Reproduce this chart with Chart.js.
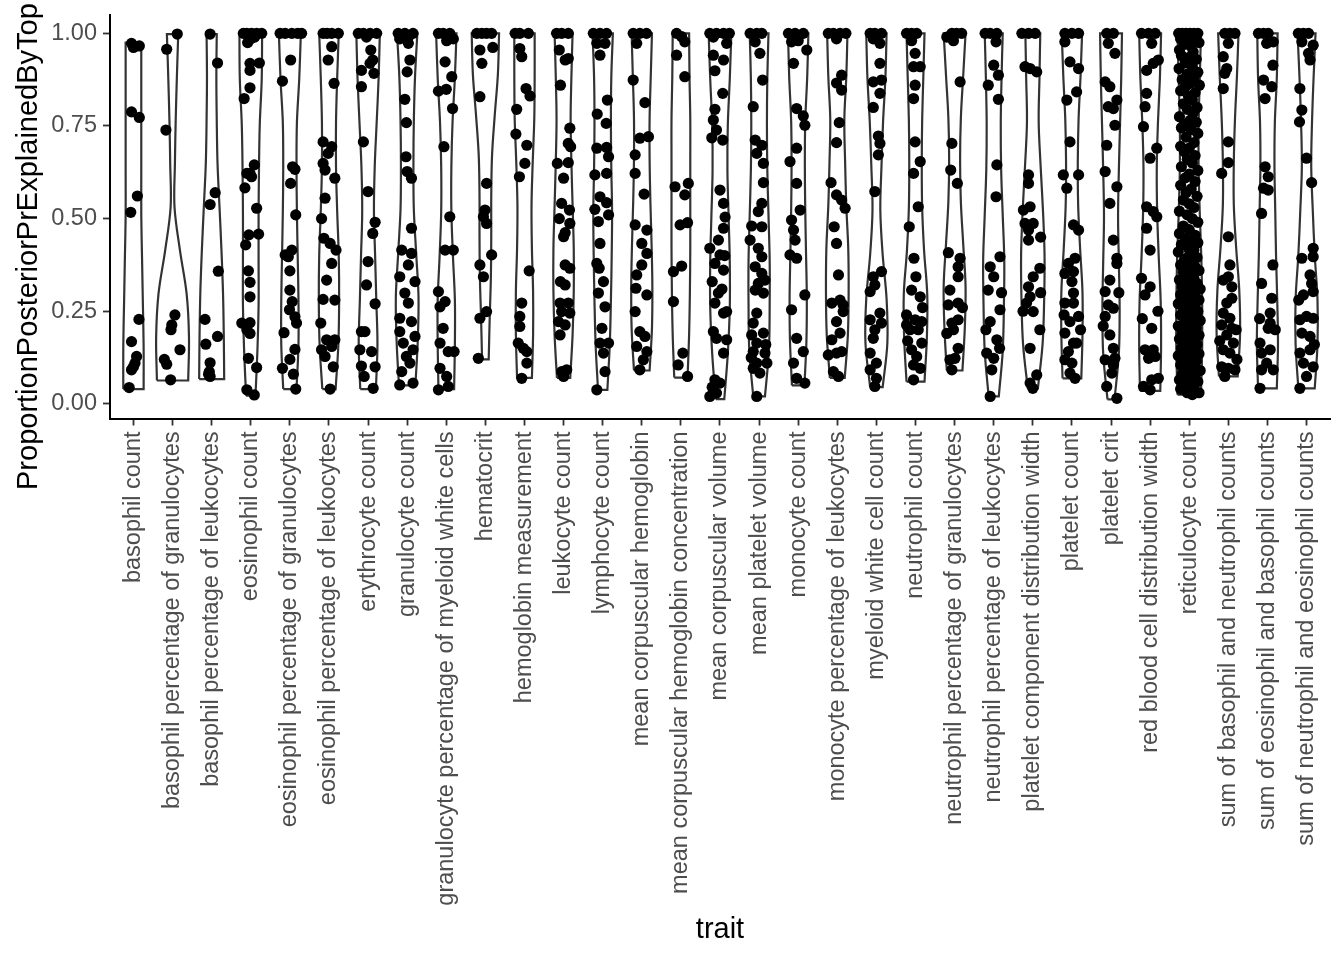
<!DOCTYPE html>
<html>
<head>
<meta charset="utf-8">
<script src="https://cdn.jsdelivr.net/npm/chart.js@4.4.1/dist/chart.umd.min.js"></script>
<style>
html,body{margin:0;padding:0;background:#ffffff;}
canvas{display:block;}
</style>
</head>
<body>
<canvas id="c" width="1344" height="960"></canvas>
<script>
const categories = [
  "basophil count","basophil percentage of granulocytes","basophil percentage of leukocytes",
  "eosinophil count","eosinophil percentage of granulocytes","eosinophil percentage of leukocytes",
  "erythrocyte count","granulocyte count","granulocyte percentage of myeloid white cells",
  "hematocrit","hemoglobin measurement","leukocyte count","lymphocyte count",
  "mean corpuscular hemoglobin","mean corpuscular hemoglobin concentration",
  "mean corpuscular volume","mean platelet volume","monocyte count",
  "monocyte percentage of leukocytes","myeloid white cell count","neutrophil count",
  "neutrophil percentage of granulocytes","neutrophil percentage of leukocytes",
  "platelet component distribution width","platelet count","platelet crit",
  "red blood cell distribution width","reticulocyte count",
  "sum of basophil and neutrophil counts","sum of eosinophil and basophil counts",
  "sum of neutrophil and eosinophil counts"
];
const xTitle = "trait";
const yTitle = "ProportionPosteriorPrExplainedByTop";
const yTickValues = [0, 0.25, 0.5, 0.75, 1];

// violin extents (trimmed to data range)
const violinMin = [0.04,0.063,0.067,0.022,0.04,0.04,0.04,0.05,0.04,0.12,0.07,0.07,0.038,0.09,0.071,
  0.013,0.02,0.05,0.07,0.045,0.06,0.09,0.02,0.042,0.069,0.012,0.035,0.025,0.074,0.042,0.042];
const violinMax = [0.975,0.998,0.998,0.998,0.998,1,1,1,1,1,1,1,1,1,1,
  1,1,1,1,1,1,1,1,1,1,1,1,1,1,1,1];
// violin half widths (category units), bottom -> top at evenly spaced levels
const violinHalfWidth = [
  [0.26,0.26,0.24,0.22,0.2,0.2,0.2,0.2,0.2],
  [0.40,0.42,0.36,0.19,0.05,0.06,0.08,0.11,0.145],
  [0.32,0.31,0.29,0.25,0.2,0.15,0.13,0.12,0.13],
  [0.12,0.17,0.2,0.2,0.2,0.21,0.23,0.28,0.29],
  [0.17,0.22,0.22,0.2,0.18,0.17,0.18,0.24,0.28],
  [0.17,0.24,0.26,0.25,0.21,0.18,0.18,0.21,0.25],
  [0.2,0.24,0.21,0.18,0.15,0.17,0.22,0.27,0.3],
  [0.21,0.27,0.29,0.23,0.17,0.16,0.17,0.2,0.26],
  [0.2,0.22,0.22,0.17,0.13,0.13,0.16,0.22,0.26],
  [0.085,0.11,0.14,0.15,0.15,0.17,0.24,0.32,0.35],
  [0.19,0.22,0.22,0.19,0.18,0.21,0.25,0.26,0.26],
  [0.17,0.23,0.26,0.26,0.23,0.2,0.18,0.2,0.23],
  [0.12,0.18,0.21,0.23,0.24,0.22,0.21,0.22,0.26],
  [0.2,0.26,0.27,0.25,0.22,0.2,0.2,0.23,0.26],
  [0.17,0.21,0.23,0.24,0.24,0.24,0.24,0.22,0.21],
  [0.11,0.2,0.25,0.25,0.22,0.19,0.2,0.25,0.29],
  [0.15,0.25,0.27,0.27,0.24,0.21,0.2,0.21,0.24],
  [0.16,0.21,0.22,0.2,0.18,0.17,0.18,0.23,0.26],
  [0.19,0.27,0.29,0.28,0.23,0.2,0.18,0.23,0.26],
  [0.16,0.28,0.26,0.16,0.1,0.13,0.17,0.23,0.26],
  [0.23,0.29,0.3,0.22,0.17,0.16,0.17,0.2,0.23],
  [0.2,0.26,0.28,0.22,0.16,0.14,0.16,0.22,0.28],
  [0.13,0.23,0.26,0.27,0.23,0.19,0.18,0.2,0.23],
  [0.13,0.25,0.29,0.3,0.26,0.2,0.15,0.17,0.19],
  [0.24,0.27,0.27,0.21,0.16,0.15,0.17,0.22,0.26],
  [0.09,0.2,0.22,0.2,0.18,0.2,0.23,0.26,0.28],
  [0.26,0.28,0.27,0.22,0.18,0.17,0.2,0.25,0.28],
  [0.3,0.33,0.33,0.31,0.27,0.24,0.24,0.27,0.3],
  [0.24,0.3,0.28,0.2,0.14,0.14,0.17,0.22,0.26],
  [0.24,0.27,0.25,0.22,0.2,0.18,0.19,0.24,0.26],
  [0.21,0.28,0.28,0.21,0.16,0.12,0.14,0.18,0.23]
];

// jittered observations: [horizontal jitter offset, value]
const jitterPoints = [
  [[-0.05,0.973],[0.0,0.962],[0.15,0.966],[-0.05,0.788],[0.15,0.773],[0.1,0.561],[-0.07,0.517],[0.14,0.228],[-0.05,0.168],[0.08,0.128],[0.04,0.11],[-0.05,0.092],[0.0,0.1],[-0.11,0.044]],
  [[0.12,0.998],[-0.15,0.957],[-0.17,0.739],[0.06,0.24],[-0.02,0.213],[-0.04,0.2],[0.19,0.146],[-0.21,0.12],[-0.15,0.107],[-0.05,0.065]],
  [[-0.04,0.998],[0.15,0.92],[0.09,0.57],[-0.04,0.538],[0.17,0.358],[-0.17,0.228],[0.15,0.182],[-0.15,0.161],[-0.04,0.111],[-0.06,0.087],[-0.04,0.074],[-0.08,0.08]],
  [[-0.19,1.0],[-0.1,1.0],[0.02,1.0],[0.15,1.0],[0.28,1.0],[0.0,0.985],[-0.08,0.975],[0.1,0.99],[-0.02,0.919],[0.22,0.92],[-0.02,0.9],[-0.02,0.853],[-0.17,0.824],[0.09,0.645],[-0.02,0.622],[0.02,0.613],[-0.1,0.622],[-0.15,0.583],[0.15,0.528],[-0.05,0.456],[0.2,0.458],[-0.13,0.429],[-0.06,0.359],[-0.02,0.328],[-0.02,0.289],[-0.23,0.218],[-0.1,0.2],[-0.02,0.19],[-0.02,0.219],[-0.06,0.123],[0.15,0.098],[-0.1,0.038],[0.09,0.024]],
  [[-0.25,1.0],[-0.12,1.0],[0.05,1.0],[0.2,1.0],[0.3,1.0],[0.02,0.928],[-0.19,0.871],[0.07,0.64],[0.13,0.633],[0.02,0.595],[0.15,0.51],[-0.12,0.402],[-0.04,0.397],[0.05,0.415],[0.0,0.359],[0.0,0.307],[0.06,0.276],[-0.01,0.254],[0.13,0.235],[0.17,0.218],[-0.15,0.192],[0.13,0.147],[0.0,0.12],[-0.19,0.096],[0.09,0.08],[0.15,0.04]],
  [[-0.15,1.0],[0.07,1.0],[0.24,1.0],[-0.05,1.0],[0.07,0.964],[-0.02,0.928],[0.13,0.865],[-0.15,0.707],[0.07,0.694],[-0.02,0.676],[-0.15,0.649],[-0.1,0.631],[0.15,0.609],[-0.1,0.555],[-0.19,0.5],[-0.13,0.447],[0.03,0.433],[0.18,0.415],[0.07,0.379],[-0.06,0.334],[-0.15,0.282],[0.15,0.28],[-0.21,0.218],[-0.06,0.173],[0.15,0.173],[-0.19,0.146],[0.07,0.155],[-0.1,0.128],[0.11,0.1],[0.03,0.04]],
  [[-0.25,1.0],[-0.12,1.0],[0.05,1.0],[0.22,1.0],[-0.04,0.99],[0.07,0.955],[0.12,0.928],[-0.17,0.9],[0.05,0.919],[0.15,0.892],[-0.17,0.856],[-0.12,0.707],[0.0,0.573],[0.18,0.49],[0.12,0.46],[0.0,0.384],[-0.04,0.321],[0.18,0.27],[-0.17,0.195],[-0.21,0.146],[-0.08,0.195],[0.09,0.141],[-0.17,0.102],[0.18,0.1],[-0.1,0.074],[0.13,0.042]],
  [[-0.23,1.0],[-0.06,1.0],[0.15,1.0],[-0.19,0.985],[0.03,0.99],[0.03,0.973],[0.07,0.928],[0.0,0.896],[-0.06,0.822],[-0.02,0.759],[-0.03,0.667],[0.11,0.609],[0.0,0.627],[0.11,0.474],[-0.14,0.415],[0.11,0.406],[0.03,0.375],[-0.19,0.343],[0.2,0.33],[-0.06,0.299],[0.03,0.272],[-0.19,0.231],[0.11,0.222],[-0.19,0.195],[0.2,0.182],[-0.1,0.164],[0.15,0.146],[-0.02,0.128],[0.07,0.11],[-0.14,0.087],[0.15,0.056],[-0.19,0.051]],
  [[-0.2,1.0],[-0.08,1.0],[0.09,1.0],[0.18,0.985],[0.01,0.98],[-0.03,0.923],[0.14,0.883],[-0.2,0.844],[0.0,0.849],[0.16,0.797],[-0.06,0.694],[0.09,0.505],[-0.03,0.415],[0.18,0.415],[-0.2,0.303],[-0.16,0.262],[-0.03,0.276],[-0.08,0.204],[-0.16,0.164],[0.05,0.141],[0.2,0.141],[-0.16,0.096],[0.01,0.074],[-0.2,0.038],[0.05,0.047]],
  [[-0.22,1.0],[-0.09,1.0],[0.03,1.0],[0.16,1.0],[-0.14,0.955],[0.19,0.962],[-0.09,0.919],[-0.14,0.829],[0.03,0.595],[-0.01,0.523],[-0.05,0.505],[0.03,0.487],[0.16,0.402],[-0.14,0.375],[-0.05,0.343],[0.03,0.249],[-0.14,0.231],[-0.18,0.123]],
  [[-0.24,1.0],[-0.12,1.0],[0.1,1.0],[-0.12,0.959],[-0.07,0.937],[0.04,0.851],[0.14,0.831],[-0.2,0.795],[-0.22,0.728],[0.06,0.698],[0.01,0.649],[-0.13,0.613],[0.12,0.359],[-0.07,0.272],[-0.12,0.236],[-0.12,0.209],[-0.16,0.164],[-0.03,0.15],[0.06,0.141],[0.06,0.11],[-0.07,0.069]],
  [[-0.18,1.0],[-0.05,1.0],[0.12,1.0],[-0.11,0.955],[0.12,0.932],[0.04,0.928],[-0.08,0.86],[0.16,0.744],[0.12,0.703],[0.18,0.694],[-0.16,0.649],[0.12,0.651],[0.0,0.609],[-0.05,0.541],[0.15,0.523],[-0.11,0.5],[0.16,0.487],[0.04,0.462],[0.0,0.451],[0.04,0.375],[0.16,0.366],[-0.08,0.33],[0.04,0.321],[-0.09,0.272],[0.12,0.272],[-0.05,0.249],[0.16,0.245],[-0.13,0.222],[0.04,0.213],[-0.09,0.186],[-0.05,0.087],[0.08,0.092],[0.0,0.074]],
  [[-0.24,1.0],[-0.07,1.0],[0.1,1.0],[-0.15,0.973],[0.06,0.973],[-0.07,0.941],[0.12,0.82],[-0.14,0.782],[0.09,0.757],[-0.15,0.69],[0.1,0.692],[0.15,0.667],[-0.2,0.618],[0.1,0.622],[-0.07,0.559],[0.1,0.543],[-0.2,0.525],[0.15,0.51],[-0.11,0.492],[-0.07,0.433],[-0.15,0.379],[-0.09,0.366],[0.02,0.33],[-0.11,0.299],[0.06,0.262],[-0.02,0.204],[-0.07,0.164],[0.15,0.164],[0.02,0.137],[0.06,0.087],[-0.15,0.038]],
  [[-0.22,1.0],[-0.05,1.0],[0.12,1.0],[-0.13,0.973],[-0.22,0.874],[0.08,0.813],[-0.05,0.717],[0.17,0.721],[-0.17,0.672],[-0.17,0.622],[0.06,0.566],[-0.17,0.483],[0.13,0.469],[0.0,0.433],[0.13,0.406],[0.0,0.375],[-0.13,0.348],[-0.15,0.312],[0.13,0.294],[-0.17,0.249],[-0.05,0.195],[0.08,0.182],[-0.13,0.155],[0.13,0.141],[0.04,0.119],[-0.05,0.092]],
  [[-0.11,1.0],[0.02,0.991],[0.1,0.977],[-0.11,0.941],[0.1,0.883],[-0.15,0.586],[0.19,0.595],[0.1,0.564],[-0.02,0.483],[0.17,0.489],[-0.19,0.357],[0.02,0.372],[-0.19,0.276],[0.05,0.137],[-0.07,0.105],[0.17,0.074]],
  [[-0.26,1.0],[-0.09,1.0],[0.09,1.0],[0.24,1.0],[0.17,0.973],[-0.17,0.99],[-0.17,0.941],[0.09,0.928],[-0.13,0.899],[0.07,0.838],[-0.13,0.795],[-0.17,0.766],[-0.09,0.739],[-0.21,0.718],[0.07,0.712],[0.0,0.577],[0.09,0.541],[0.13,0.504],[0.09,0.474],[-0.04,0.442],[-0.26,0.42],[0.0,0.402],[-0.13,0.379],[0.09,0.361],[-0.04,0.299],[-0.13,0.272],[0.09,0.245],[0.17,0.249],[-0.17,0.195],[-0.09,0.177],[0.17,0.173],[0.09,0.137],[-0.13,0.065],[0.0,0.056],[-0.26,0.02],[-0.09,0.029],[-0.2,0.045],[0.05,0.31],[-0.2,0.33],[0.12,0.4]],
  [[-0.23,1.0],[-0.06,1.0],[0.07,1.0],[-0.1,0.977],[0.02,0.946],[0.09,0.874],[-0.15,0.802],[-0.1,0.712],[0.07,0.698],[-0.06,0.676],[0.11,0.649],[0.11,0.597],[0.07,0.541],[-0.02,0.519],[-0.19,0.48],[0.07,0.478],[-0.23,0.442],[-0.02,0.42],[0.07,0.397],[-0.1,0.37],[0.07,0.352],[-0.02,0.325],[0.15,0.334],[-0.1,0.307],[0.11,0.299],[-0.06,0.245],[-0.15,0.218],[-0.19,0.186],[0.11,0.191],[-0.06,0.164],[-0.15,0.141],[0.15,0.137],[-0.06,0.11],[0.2,0.11],[-0.15,0.096],[0.02,0.083],[-0.06,0.02],[0.17,0.16],[-0.2,0.125]],
  [[-0.25,1.0],[-0.08,1.0],[0.13,1.0],[-0.17,0.977],[0.0,0.98],[0.22,0.955],[-0.12,0.919],[-0.04,0.797],[0.13,0.777],[0.17,0.752],[-0.04,0.69],[-0.21,0.654],[-0.04,0.595],[0.05,0.523],[-0.17,0.496],[-0.12,0.469],[-0.08,0.442],[-0.21,0.402],[-0.04,0.393],[0.17,0.294],[-0.17,0.254],[-0.04,0.177],[0.13,0.141],[-0.12,0.11],[-0.04,0.069],[0.17,0.056]],
  [[-0.23,1.0],[-0.1,1.0],[0.07,1.0],[0.22,1.0],[-0.02,0.985],[0.11,0.887],[-0.02,0.866],[0.11,0.847],[0.05,0.759],[-0.02,0.705],[-0.16,0.597],[-0.02,0.564],[0.11,0.55],[0.2,0.528],[-0.08,0.478],[-0.02,0.433],[0.03,0.348],[-0.14,0.272],[0.07,0.28],[0.15,0.267],[0.15,0.249],[-0.02,0.222],[0.07,0.191],[-0.14,0.173],[-0.02,0.137],[-0.23,0.132],[0.11,0.141],[-0.1,0.087],[0.03,0.074]],
  [[-0.16,1.0],[-0.04,1.0],[0.13,1.0],[-0.08,0.985],[0.09,0.973],[0.09,0.919],[-0.08,0.869],[0.13,0.874],[0.09,0.838],[-0.08,0.8],[0.05,0.723],[0.09,0.703],[0.05,0.672],[-0.04,0.573],[-0.08,0.343],[0.13,0.357],[-0.16,0.303],[-0.04,0.321],[-0.16,0.227],[0.09,0.245],[-0.04,0.2],[0.13,0.218],[-0.08,0.177],[-0.16,0.137],[0.0,0.11],[-0.16,0.092],[0.0,0.069],[-0.04,0.047]],
  [[-0.23,1.0],[-0.1,1.0],[0.03,1.0],[-0.1,0.98],[-0.01,0.946],[-0.05,0.91],[0.12,0.91],[-0.01,0.86],[-0.05,0.824],[-0.01,0.707],[0.12,0.654],[-0.05,0.622],[0.07,0.532],[-0.16,0.478],[-0.04,0.393],[0.01,0.343],[-0.1,0.307],[0.12,0.289],[-0.23,0.24],[-0.01,0.227],[0.16,0.222],[-0.14,0.2],[0.07,0.2],[-0.23,0.213],[-0.1,0.146],[0.16,0.164],[0.03,0.128],[-0.05,0.105],[0.12,0.096],[-0.05,0.065],[-0.2,0.17],[0.18,0.26]],
  [[-0.2,0.99],[-0.07,1.0],[0.05,1.0],[0.18,1.0],[-0.03,0.98],[0.14,0.869],[-0.07,0.703],[-0.1,0.631],[0.07,0.595],[-0.16,0.408],[0.14,0.393],[0.09,0.37],[0.09,0.343],[-0.12,0.307],[-0.16,0.267],[0.09,0.272],[-0.07,0.218],[0.09,0.227],[-0.03,0.2],[0.09,0.15],[-0.12,0.119],[0.01,0.123],[-0.07,0.092],[0.2,0.26],[-0.2,0.19]],
  [[-0.22,1.0],[-0.09,1.0],[0.08,1.0],[0.06,0.977],[0.0,0.914],[0.12,0.887],[-0.14,0.86],[0.12,0.822],[0.08,0.645],[0.06,0.559],[0.16,0.397],[-0.09,0.37],[0.0,0.343],[-0.14,0.307],[0.16,0.254],[-0.09,0.222],[0.08,0.173],[-0.18,0.137],[0.0,0.123],[-0.05,0.092],[-0.09,0.02],[0.2,0.3],[-0.2,0.2],[0.15,0.15]],
  [[-0.28,1.0],[-0.11,1.0],[0.06,1.0],[-0.2,0.91],[-0.07,0.905],[0.1,0.896],[-0.11,0.618],[-0.11,0.595],[-0.24,0.523],[-0.07,0.532],[-0.2,0.487],[0.01,0.487],[-0.11,0.469],[-0.11,0.442],[0.18,0.366],[0.01,0.343],[-0.11,0.316],[-0.07,0.289],[-0.16,0.272],[0.01,0.249],[0.18,0.2],[-0.07,0.15],[0.1,0.078],[-0.07,0.056],[0.0,0.042],[0.2,0.3],[-0.25,0.25],[0.2,0.45]],
  [[-0.18,1.0],[0.0,1.0],[0.17,1.0],[-0.18,0.977],[-0.05,0.923],[0.17,0.905],[0.12,0.842],[-0.13,0.82],[-0.05,0.707],[-0.22,0.618],[0.17,0.618],[-0.13,0.582],[0.04,0.483],[0.17,0.469],[0.08,0.393],[-0.09,0.379],[-0.18,0.352],[0.04,0.357],[0.0,0.33],[0.04,0.299],[-0.18,0.272],[0.04,0.272],[0.17,0.236],[-0.05,0.222],[-0.18,0.191],[0.04,0.164],[0.12,0.164],[-0.09,0.141],[-0.18,0.119],[0.0,0.11],[-0.05,0.083],[0.08,0.069],[0.22,0.2],[-0.2,0.24]],
  [[-0.11,1.0],[0.06,1.0],[-0.07,0.973],[0.1,0.946],[-0.15,0.869],[-0.03,0.856],[0.15,0.82],[0.06,0.797],[-0.07,0.802],[0.1,0.752],[-0.11,0.698],[-0.15,0.627],[0.15,0.586],[-0.03,0.541],[0.06,0.442],[0.15,0.393],[0.15,0.379],[-0.03,0.334],[-0.15,0.303],[-0.07,0.267],[0.06,0.258],[-0.15,0.236],[-0.03,0.186],[0.06,0.15],[0.1,0.123],[0.06,0.105],[-0.15,0.119],[0.02,0.083],[-0.11,0.047],[0.15,0.015],[0.2,0.3],[-0.2,0.21]],
  [[-0.22,1.0],[-0.04,1.0],[0.13,1.0],[0.04,0.973],[0.21,0.928],[0.08,0.919],[-0.09,0.9],[-0.09,0.838],[-0.13,0.802],[-0.17,0.748],[0.17,0.69],[0.0,0.663],[-0.09,0.532],[0.08,0.519],[0.17,0.505],[-0.09,0.474],[0.0,0.415],[-0.22,0.339],[0.0,0.316],[-0.13,0.294],[0.04,0.204],[-0.13,0.146],[0.08,0.146],[-0.04,0.123],[0.13,0.128],[0.21,0.069],[0.04,0.065],[-0.17,0.047],[0.0,0.038],[0.2,0.25],[-0.2,0.23]],
  [[-0.27,1.0],[-0.18,1.0],[-0.08,1.0],[0.02,1.0],[0.12,1.0],[0.22,1.0],[-0.22,0.985],[-0.05,0.99],[0.15,0.985],[-0.13,0.97],[0.05,0.965],[0.25,0.975],[-0.25,0.955],[0.1,0.95],
   [-0.2,0.94],[0.0,0.935],[0.18,0.93],[-0.1,0.92],[0.08,0.91],[-0.26,0.905],[0.22,0.895],[-0.05,0.89],[0.12,0.88],[-0.18,0.875],[0.02,0.865],[0.26,0.86],[-0.1,0.855],
   [-0.22,0.845],[0.15,0.84],[-0.02,0.83],[0.08,0.82],[-0.15,0.81],[0.2,0.8],[-0.05,0.795],[0.1,0.785],[-0.25,0.775],[0.02,0.765],[0.18,0.76],[-0.12,0.755],
   [-0.2,0.745],[0.05,0.74],[0.22,0.73],[-0.08,0.72],[0.12,0.705],[-0.22,0.695],[0.0,0.69],[-0.12,0.68],[0.15,0.67],[-0.05,0.66],[0.08,0.65],[-0.2,0.64],[0.22,0.63],[0.0,0.62],[-0.1,0.61],
   [0.15,0.6],[-0.22,0.59],[0.05,0.58],[-0.08,0.57],[0.2,0.56],[-0.15,0.55],[0.0,0.54],[0.12,0.53],[-0.25,0.52],[-0.05,0.51],[0.08,0.5],[0.22,0.49],[-0.15,0.48],[0.0,0.47],[-0.25,0.46],[0.15,0.455],
   [-0.1,0.445],[0.05,0.44],[0.22,0.435],[-0.2,0.43],[-0.02,0.42],[0.12,0.415],[-0.28,0.41],[0.0,0.4],[0.2,0.395],[-0.12,0.39],[0.08,0.385],[-0.22,0.375],[0.15,0.37],[-0.05,0.365],[0.25,0.36],[-0.15,0.355],[0.02,0.35],[0.12,0.34],[-0.25,0.335],[-0.08,0.33],[0.2,0.325],[0.05,0.32],[-0.18,0.315],[0.28,0.31],[-0.02,0.305],
   [0.15,0.3],[-0.22,0.295],[0.08,0.29],[-0.1,0.285],[0.25,0.28],[0.0,0.275],[-0.28,0.27],[0.15,0.265],[-0.15,0.26],[0.05,0.255],[0.22,0.25],[-0.05,0.245],[-0.22,0.24],[0.12,0.235],[0.0,0.23],[0.28,0.225],[-0.12,0.22],[0.08,0.215],[-0.28,0.21],[0.18,0.205],[-0.05,0.2],[0.05,0.195],[-0.18,0.19],[0.25,0.185],[0.0,0.18],[-0.25,0.175],[0.12,0.17],[-0.1,0.165],[0.2,0.16],[0.02,0.155],
   [-0.2,0.15],[0.1,0.145],[-0.05,0.14],[0.25,0.135],[-0.28,0.13],[0.05,0.125],[-0.12,0.12],[0.18,0.115],[0.0,0.11],[-0.22,0.105],[0.12,0.1],[-0.08,0.095],[0.28,0.09],[0.05,0.085],[-0.18,0.08],[0.15,0.075],[-0.02,0.07],[-0.25,0.065],[0.22,0.06],[0.08,0.055],[-0.12,0.05],[0.02,0.045],[-0.22,0.04],[0.15,0.035],[-0.05,0.03],[0.25,0.03],[0.08,0.025]],
  [[-0.09,1.0],[0.04,1.0],[0.17,1.0],[0.0,0.973],[-0.13,0.937],[-0.04,0.905],[-0.09,0.892],[-0.13,0.851],[0.0,0.707],[0.0,0.651],[-0.17,0.622],[0.0,0.451],[0.04,0.375],[0.0,0.343],[0.09,0.316],[-0.13,0.334],[0.09,0.285],[-0.04,0.272],[-0.13,0.245],[0.04,0.231],[-0.17,0.213],[0.09,0.204],[-0.04,0.186],[0.13,0.164],[-0.13,0.146],[0.04,0.137],[-0.17,0.1],[0.0,0.096],[0.17,0.092],[-0.09,0.074],[0.2,0.2],[-0.22,0.17],[0.22,0.12]],
  [[-0.23,1.0],[-0.1,1.0],[0.02,1.0],[0.15,0.977],[-0.02,0.973],[0.14,0.914],[-0.1,0.874],[0.11,0.856],[-0.06,0.824],[-0.06,0.64],[0.02,0.613],[-0.1,0.582],[0.02,0.577],[-0.15,0.514],[0.14,0.375],[-0.15,0.325],[0.11,0.285],[0.07,0.245],[0.07,0.218],[0.02,0.204],[-0.19,0.164],[0.07,0.146],[-0.15,0.137],[-0.02,0.11],[0.15,0.092],[-0.15,0.092],[-0.19,0.042],[0.2,0.2],[-0.2,0.23]],
  [[-0.21,1.0],[-0.08,1.0],[0.05,1.0],[-0.12,0.977],[0.17,0.968],[0.05,0.946],[0.09,0.928],[-0.17,0.851],[-0.12,0.793],[-0.18,0.761],[0.0,0.663],[0.13,0.597],[0.17,0.42],[-0.12,0.393],[0.17,0.397],[0.09,0.348],[0.13,0.325],[-0.08,0.294],[0.17,0.303],[-0.17,0.227],[0.0,0.236],[0.17,0.231],[-0.12,0.191],[0.09,0.182],[-0.17,0.137],[0.09,0.146],[-0.08,0.11],[0.17,0.1],[0.0,0.074],[-0.17,0.042],[-0.2,0.28],[0.2,0.16]]
];

// ---- build datasets from the arrays above ----
const violinDatasets = categories.map((name, i) => {
  const w = violinHalfWidth[i];
  const n = w.length;
  const lo = violinMin[i], hi = violinMax[i];
  const levels = w.map((_, k) => lo + (hi - lo) * k / (n - 1));
  const left = levels.map((y, k) => ({x: i - w[k], y: y}));
  const right = levels.map((y, k) => ({x: i + w[k], y: y})).reverse();
  const path = [left[0]].concat(left, [left[n - 1]], [right[0]], right, [right[n - 1]], [left[0], left[0]]);
  return {
    label: name,
    data: path,
    showLine: true,
    fill: false,
    borderColor: '#333333',
    borderWidth: 2.2,
    pointRadius: 0,
    pointHoverRadius: 0,
    tension: 0.35,
    order: 1
  };
});

const pointData = [];
jitterPoints.forEach((arr, i) => {
  arr.forEach(p => pointData.push({x: i + p[0], y: p[1]}));
});

const axisTitles = {
  id: 'axisTitles',
  afterDraw(chart) {
    const ctx = chart.ctx;
    const a = chart.chartArea;
    ctx.save();
    ctx.fillStyle = '#000000';
    ctx.font = '29px "Liberation Sans", Arial, sans-serif';
    ctx.textAlign = 'center';
    ctx.textBaseline = 'alphabetic';
    ctx.fillText(xTitle, (a.left + a.right) / 2, 938);
    ctx.translate(37, 490);
    ctx.rotate(-Math.PI / 2);
    ctx.textAlign = 'left';
    ctx.fillText(yTitle, 0, 0);
    ctx.restore();
  }
};

const tickFont = {family: '"Liberation Sans", Arial, sans-serif', size: 23.5};

new Chart(document.getElementById('c'), {
  type: 'scatter',
  data: {
    datasets: [{
      label: 'points',
      data: pointData,
      backgroundColor: '#000000',
      borderWidth: 0,
      pointRadius: 5.6,
      pointHoverRadius: 5.6,
      order: 0
    }].concat(violinDatasets)
  },
  options: {
    responsive: false,
    devicePixelRatio: 1,
    animation: false,
    events: [],
    layout: {padding: {top: 15, right: 14, bottom: 0, left: 0}},
    plugins: {legend: {display: false}, tooltip: {enabled: false}, title: {display: false}},
    scales: {
      x: {
        type: 'linear',
        min: -0.6,
        max: 30.6,
        afterBuildTicks: s => { s.ticks = categories.map((_, i) => ({value: i})); },
        afterFit: s => { s.height = 541.5; s.paddingLeft = 0; s.paddingRight = 0; s.paddingTop = 0; s.paddingBottom = 0; },
        ticks: {
          autoSkip: false,
          minRotation: 90,
          maxRotation: 90,
          padding: 6,
          color: '#4d4d4d',
          font: tickFont,
          callback: v => categories[v]
        },
        grid: {drawOnChartArea: false, drawTicks: true, tickLength: 7, tickColor: '#333333', tickWidth: 1.8},
        border: {display: true, color: '#000000', width: 2}
      },
      y: {
        type: 'linear',
        min: -0.0395,
        max: 1.0495,
        afterBuildTicks: s => { s.ticks = yTickValues.map(v => ({value: v})); },
        afterFit: s => { s.width = 110; s.paddingLeft = 0; s.paddingRight = 0; s.paddingTop = 0; s.paddingBottom = 0; },
        ticks: {
          padding: 6,
          color: '#4d4d4d',
          font: tickFont,
          callback: v => Number(v).toFixed(2)
        },
        grid: {drawOnChartArea: false, drawTicks: true, tickLength: 7, tickColor: '#333333', tickWidth: 1.8},
        border: {display: true, color: '#000000', width: 2}
      }
    }
  },
  plugins: [axisTitles]
});
</script>
</body>
</html>
